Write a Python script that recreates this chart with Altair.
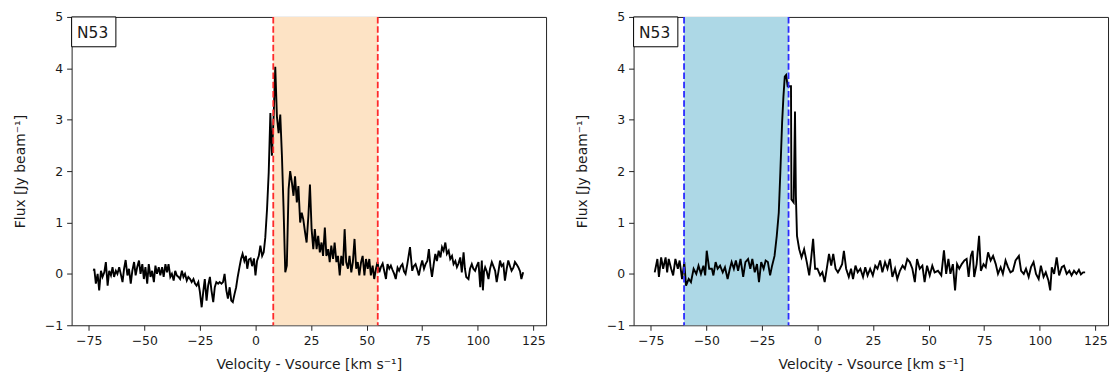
import altair as alt
import pandas as pd

# ---------------- data ----------------
left_v = [-72.8, -72.5, -71.8, -71.0, -70.3, -69.5, -68.8, -68.0, -67.3, -66.5, -65.8, -65.0, -64.3, -63.6,
          -62.8, -62.1, -61.3, -60.6, -59.8, -59.1, -58.4, -57.6, -56.9, -56.1, -55.4, -54.6, -53.9, -53.2,
          -52.4, -51.7, -50.9, -50.2, -49.5, -48.7, -48.0, -47.2, -46.5, -45.7, -45.0, -44.3, -43.5, -42.8,
          -42.0, -41.3, -40.5, -39.8, -39.1, -38.3, -37.6, -36.8, -36.1, -35.4, -34.6, -33.9, -33.1, -32.4,
          -31.7, -30.9, -30.2, -29.4, -28.7, -27.9, -27.2, -26.5, -25.7, -25.0, -24.2, -23.5, -22.8, -22.0,
          -21.3, -20.5, -19.8, -19.0, -18.3, -17.6, -16.8, -16.1, -15.3, -14.6, -13.9, -13.1, -12.4, -11.6,
          -10.9, -10.2, -9.4, -8.7, -8.0, -7.2, -6.5, -5.8, -5.0, -4.3, -3.7, -3.0, -2.2, -1.5, -0.7, 0.0,
          0.7, 1.5, 2.2, 3.0, 3.7, 4.4, 5.2, 5.95, 6.7, 7.4, 8.2, 8.9, 9.65, 10.4, 11.15, 11.9, 12.6, 13.4,
          14.1, 14.9, 15.6, 16.4, 17.1, 17.8, 18.6, 19.3, 20.1, 20.8, 21.5, 22.3, 23.0, 23.8, 24.5, 25.25,
          26.0, 26.7, 27.5, 28.2, 28.95, 29.7, 30.4, 31.2, 31.9, 32.7, 33.4, 34.1, 34.9, 35.6, 36.4, 37.1,
          37.9, 38.6, 39.4, 40.1, 40.8, 41.6, 42.3, 43.1, 43.8, 44.55, 45.3, 46.0, 46.7, 47.5, 48.2, 49.0,
          49.7, 50.5, 51.2, 51.9, 52.7, 53.4, 54.2, 54.9, 55.7, 56.4, 57.2, 57.9, 58.7, 59.4, 60.2, 60.9,
          61.6, 62.4, 63.1, 63.9, 64.6, 65.4, 66.1, 66.8, 67.5, 68.3, 69.5, 70.5, 71.2, 72.0, 72.8, 73.5,
          74.3, 75.0, 75.8, 76.5, 77.3, 78.0, 78.7, 79.4, 80.2, 80.9, 81.6, 82.4, 83.2, 83.9, 84.6, 85.4,
          86.1, 86.9, 87.6, 88.4, 89.1, 89.9, 90.6, 91.3, 92.1, 92.8, 93.6, 94.2, 94.8, 95.8, 96.5, 97.3,
          98.0, 98.8, 99.5, 100.3, 101.1, 101.8, 102.3, 102.8, 103.3, 104.0, 104.8, 105.5, 106.3, 107.0,
          107.8, 108.5, 109.3, 110.0, 110.7, 111.5, 112.2, 113.0, 113.7, 114.5, 115.2, 116.0, 116.7, 117.5,
          118.2, 119.0, 119.6, 120.4]
left_f = [0.06, 0.10, -0.19, 0.00, -0.32, 0.06, -0.06, 0.03, 0.23, -0.23, 0.06, -0.03, 0.13, -0.06,
          0.06, 0.00, 0.13, 0.00, -0.16, 0.10, 0.27, -0.03, 0.10, -0.19, 0.06, 0.23, -0.03, 0.13,
          0.26, 0.00, 0.19, -0.10, 0.13, -0.19, 0.19, -0.06, 0.06, -0.16, 0.16, 0.00, 0.13, -0.03,
          0.13, -0.06, 0.19, 0.03, 0.19, -0.06, 0.00, -0.13, 0.06, -0.03, -0.06, -0.10, 0.06, -0.06,
          0.00, -0.13, -0.06, -0.10, -0.16, -0.10, -0.19, -0.23, -0.16, -0.35, -0.65, -0.35, -0.10, -0.52,
          -0.23, -0.06, -0.32, -0.55, -0.26, -0.16, -0.19, -0.16, -0.19, -0.16, 0.00, -0.32, -0.48, -0.26,
          -0.52, -0.55, -0.39, -0.26, -0.06, 0.13, 0.29, 0.39, 0.25, 0.35, 0.10, 0.28, 0.30, 0.15, 0.30, -0.03,
          0.25, 0.35, 0.55, 0.35, 0.42, 0.70, 1.26, 1.97, 3.13, 2.30, 3.10, 4.03, 3.06, 2.74, 3.10, 2.30, 1.32, 0.03,
          0.16, 1.65, 2.00, 1.77, 1.52, 1.90, 1.39, 1.71, 1.00, 1.19, 1.06, 0.81, 0.61, 1.13, 1.74, 0.87,
          0.48, 0.87, 0.48, 0.74, 0.42, 0.61, 0.35, 0.90, 0.35, 0.48, 0.23, 0.55, 0.29, 0.61, 0.23, 0.35,
          -0.03, 0.35, 0.16, 0.87, 0.23, 0.10, 0.35, 0.03, 0.23, 0.68, 0.10, 0.23, -0.03, 0.23, 0.35, -0.03,
          0.29, 0.10, 0.29, -0.03, 0.16, -0.10, 0.10, 0.23, 0.03, 0.13, 0.20, 0.06, -0.10, 0.19, 0.10, 0.16,
          0.08, 0.00, -0.10, 0.12, 0.06, 0.15, 0.19, 0.05, 0.00, 0.19, 0.52, 0.06, 0.15, 0.19, 0.08, -0.03,
          0.15, 0.26, 0.10, 0.19, 0.25, 0.48, 0.15, -0.06, 0.20, 0.39, 0.25, 0.45, 0.32, 0.52, 0.45, 0.61,
          0.39, 0.45, 0.29, 0.35, 0.19, 0.25, 0.13, 0.20, 0.32, 0.03, 0.42, 0.10, -0.06, -0.10, 0.10, 0.19,
          0.10, 0.06, 0.15, 0.23, -0.26, 0.26, -0.32, 0.05, 0.13, 0.05, -0.10, 0.10, 0.23, 0.15,
          0.06, -0.16, 0.05, 0.26, 0.15, 0.19, -0.13, 0.10, 0.26, 0.15, 0.06, 0.12, 0.23, 0.18,
          0.13, 0.05, -0.10, 0.03]

right_v = [-73.2, -72.0, -71.3, -70.3, -69.4, -68.3, -67.6, -66.9, -65.8, -64.9, -63.9, -62.8, -62.0, -60.9,
           -59.9, -59.1, -57.9, -56.9, -55.7, -54.5, -53.5, -52.4, -51.3, -50.5, -49.8, -48.7, -47.5, -46.8,
           -45.8, -44.9, -43.8, -42.6, -41.6, -40.4, -39.4, -38.6, -37.6, -36.7, -35.7, -34.6, -33.4, -32.4,
           -31.2, -30.2, -29.3, -28.2, -27.2, -26.3, -25.3, -24.2, -23.3, -22.3, -21.3, -20.4, -19.3, -18.3,
           -17.4, -16.7, -15.9, -15.3, -14.7, -14.1, -13.4, -12.6, -11.9, -11.7, -10.7, -10.1, -9.7, -9.2,
           -8.2, -7.15, -6.0, -4.8, -3.7, -3.0, -1.95, -1.05, 0.0, 1.2, 2.2, 3.25, 4.4, 5.2, 6.2, 7.1, 8.15,
           9.2, 10.1, 11.1, 11.9, 12.9, 14.1, 15.1, 16.0, 17.1, 18.1, 19.3, 20.5, 21.5, 22.55, 23.7, 24.9,
           26.0, 27.0, 28.2, 29.2, 30.4, 31.5, 32.6, 33.7, 34.9, 35.9, 37.1, 38.3, 39.3, 40.4, 41.55, 42.7,
           43.8, 44.8, 46.0, 47.2, 48.2, 49.3, 50.5, 51.65, 52.7, 54.2, 55.7, 56.9, 57.9, 58.9, 59.8, 60.9,
           61.9, 62.8, 63.8, 64.9, 66.1, 67.1, 68.0, 69.0, 69.8, 70.5, 71.6, 72.7, 73.5, 74.7, 75.7, 76.75,
           77.9, 79.0, 80.2, 81.2, 82.4, 83.4, 84.6, 85.7, 86.8, 87.9, 89.1, 90.6, 91.6, 92.8, 93.8, 95.0,
           96.05, 97.2, 98.3, 99.5, 100.5, 101.7, 102.7, 103.9, 104.7, 105.4, 106.45, 107.6, 108.7, 109.9,
           110.9, 112.1, 113.3, 114.3, 115.4, 116.5, 117.6, 118.5, 119.5, 120.4]
right_f = [0.03, 0.29, -0.06, 0.32, 0.10, 0.32, 0.03, 0.29, 0.10, -0.03, 0.29, 0.10, 0.26, -0.10,
           0.23, -0.23, -0.10, -0.16, 0.10, 0.00, 0.16, 0.00, 0.16, -0.03, 0.45, 0.10, 0.10, -0.03,
           0.23, 0.10, 0.16, 0.03, 0.13, -0.10, 0.10, 0.23, 0.10, 0.26, 0.06, 0.29, -0.06, 0.23,
           0.29, 0.10, 0.29, 0.03, 0.19, -0.16, 0.23, 0.10, 0.26, 0.23, -0.03, 0.16, 0.35, 0.74,
           1.19, 1.97, 2.94, 3.45, 3.84, 3.87, 3.65, 3.65, 3.65, 1.45, 1.39, 3.16, 1.52, 0.74,
           0.48, 0.32, 0.48, 0.23, -0.03, 0.23, 0.68, 0.10, 0.10, -0.03, 0.03, -0.16, 0.16, 0.39, 0.16, 0.39, 0.10,
           0.03, 0.10, 0.19, 0.45, 0.10, -0.06, 0.10, -0.10, 0.16, 0.03, 0.10, -0.06, 0.13, -0.03, 0.10, -0.03,
           0.16, 0.10, 0.26, 0.03, 0.23, 0.10, 0.29, -0.06, 0.10, -0.10, 0.06, 0.16, 0.10, 0.29, 0.23, 0.10,
           -0.16, 0.29, 0.10, 0.16, -0.16, 0.16, -0.03, 0.16, 0.03, 0.06, -0.03, 0.46, 0.00, 0.29, 0.00, 0.19,
           -0.32, 0.19, 0.10, 0.19, 0.26, 0.29, -0.06, 0.35, 0.45, -0.06, 0.19, 0.74, 0.06, 0.19, 0.13, 0.42,
           0.26, 0.35, 0.19, 0.00, 0.13, 0.00, 0.26, 0.13, 0.03, 0.06, 0.26, 0.35, 0.06, 0.00, 0.10, -0.06,
           0.13, 0.23, 0.00, -0.10, 0.16, -0.06, 0.03, -0.13, -0.32, 0.13, 0.00, 0.32, -0.03, 0.13,
           0.16, 0.00, 0.06, -0.03, 0.06, 0.00, 0.08, -0.01, 0.03, 0.03]

left_band = [8, 55]
right_band = [-60, -13]
panel_label = "N53"
x_ticks = [-75, -50, -25, 0, 25, 50, 75, 100, 125]
y_ticks = [-1, 0, 1, 2, 3, 4, 5]
x_domain = [-82.7, 130.7]
y_domain = [-1, 5]

W, H = 477, 310
FONT = "DejaVu Sans"


def panel(v, f, band, fill, dash_color):
    spec = pd.DataFrame({"v": v, "f": f, "i": list(range(len(v)))})
    bdf = pd.DataFrame({"x1": [band[0]], "x2": [band[1]]})
    rdf = pd.DataFrame({"x": band})
    ldf = pd.DataFrame({"label": [panel_label]})

    xs = alt.Scale(domain=x_domain, nice=False, zero=False)
    ys = alt.Scale(domain=y_domain, nice=False, zero=False)

    xaxis = alt.Axis(values=x_ticks, title="Velocity - Vsource [km s⁻¹]", titleX=W / 2, titleY=32.5,
                     titleBaseline="top", titleAlign="center")
    yaxis = alt.Axis(values=y_ticks, title="Flux [Jy beam⁻¹]", titleX=-51.7, titleY=H / 2,
                     titleBaseline="middle", titleAlign="center", titleAngle=270)

    shade = alt.Chart(bdf).mark_rect(color=fill, opacity=1).encode(
        x=alt.X("x1:Q", scale=xs, axis=xaxis),
        x2="x2:Q",
    )
    line = alt.Chart(spec).mark_line(color="black", strokeWidth=1.9).encode(
        x=alt.X("v:Q", scale=xs),
        y=alt.Y("f:Q", scale=ys, axis=yaxis),
        order="i:Q",
    )
    rules = alt.Chart(rdf).mark_rule(color=dash_color, strokeWidth=1.8, strokeDash=[6.5, 2.8]).encode(
        x=alt.X("x:Q", scale=xs)
    )
    box = alt.Chart(ldf).mark_rect(fill="white", stroke="black", strokeWidth=1).encode(
        x=alt.value(0), x2=alt.value(44.5), y=alt.value(0), y2=alt.value(30)
    )
    txt = alt.Chart(ldf).mark_text(align="left", baseline="alphabetic", fontSize=15.5, font=FONT,
                                   color="#1a1a1a").encode(
        x=alt.value(5.5), y=alt.value(21.3), text="label:N"
    )
    return alt.layer(shade, line, rules, box, txt).properties(width=W, height=H)


left = panel(left_v, left_f, left_band, "#FDE3C5", "#FF2A2A")
right = panel(right_v, right_f, right_band, "#ADD8E6", "#2A2AFF")

chart = alt.hconcat(left, right, spacing=27).properties(
    padding={"left": 12, "top": 9, "right": 5, "bottom": 5},
    background="white",
).configure_view(
    stroke="#222222", strokeWidth=1
).configure_axis(
    grid=False, domain=False, tickSize=5, tickColor="#222222", tickWidth=1,
    labelFont=FONT, labelFontSize=12.5, labelColor="#1a1a1a", labelPadding=4,
    titleFont=FONT, titleFontSize=14, titleFontWeight="normal", titleColor="#1a1a1a",
    labelFlush=False, labelOverlap=False,
)

chart.save("out.html", embed_options={"renderer": "svg", "actions": False})
